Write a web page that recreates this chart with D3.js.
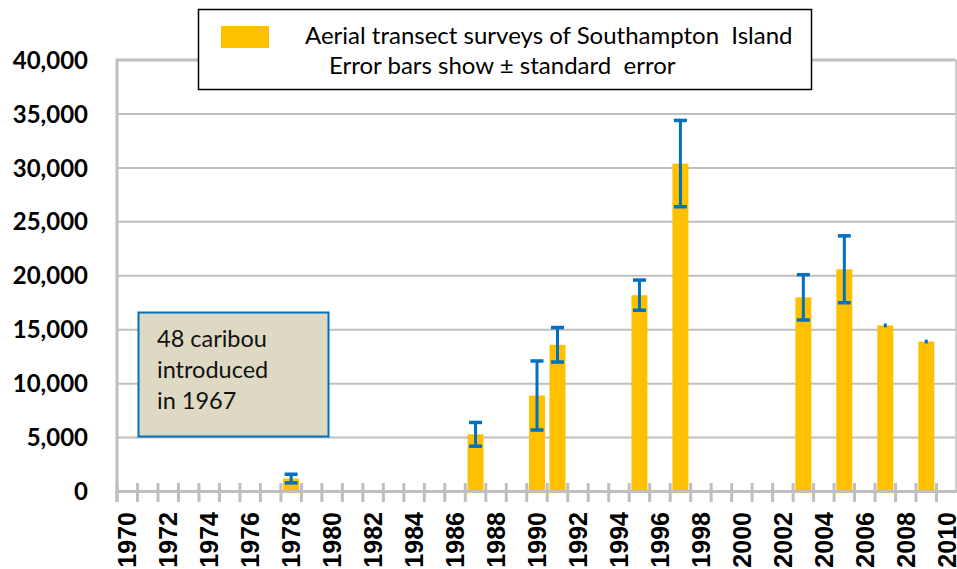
<!DOCTYPE html>
<html>
<head>
<meta charset="utf-8">
<script src="https://cdn.jsdelivr.net/npm/d3@7"></script>
<style>
  body { margin: 0; background: #fff; }
  svg { display: block; }
</style>
</head>
<body>
<div id="chart"></div>
<script>
// survey data
const surveyYears = [1978, 1987, 1990, 1991, 1995, 1997, 2003, 2005, 2007, 2009];
const estimates   = [1200, 5300, 8900, 13600, 18200, 30400, 18000, 20600, 15400, 13900];
const stdErrors   = [400, 1100, 3200, 1600, 1400, 4000, 2100, 3100, 180, 180];

// axis categories / labels
const axisYears  = [1970, 1971, 1972, 1973, 1974, 1975, 1976, 1977, 1978, 1979,
                    1980, 1981, 1982, 1983, 1984, 1985, 1986, 1987, 1988, 1989,
                    1990, 1991, 1992, 1993, 1994, 1995, 1996, 1997, 1998, 1999,
                    2000, 2001, 2002, 2003, 2004, 2005, 2006, 2007, 2008, 2009, 2010];
const xTickLabels = [1970, 1972, 1974, 1976, 1978, 1980, 1982, 1984, 1986, 1988, 1990,
                     1992, 1994, 1996, 1998, 2000, 2002, 2004, 2006, 2008, 2010];
const yTickValues = [0, 5000, 10000, 15000, 20000, 25000, 30000, 35000, 40000];

const legendLines = ["Aerial transect surveys of Southampton  Island",
                     "Error bars show \u00B1 standard  error"];
const noteLines = ["48 caribou", "introduced", "in 1967"];

const width = 957, height = 569;
const plotLeft = 117, plotRight = 957, plotTop = 60, plotBottom = 491.5;
const gridColor = "#bfbfbf";

const svg = d3.select("#chart").append("svg")
    .attr("width", width)
    .attr("height", height);

// band for bars, linear for the category boundaries (tick marks)
const x = d3.scaleBand()
    .domain(axisYears)
    .range([plotLeft, plotRight])
    .paddingInner(0.22)
    .paddingOuter(0.11);

const xEdge = d3.scaleLinear()
    .domain([1970, 2011])
    .range([plotLeft, plotRight]);

const y = d3.scaleLinear()
    .domain([0, 40000])
    .range([plotBottom, plotTop]);

// horizontal gridlines
svg.append("g")
    .selectAll("line")
    .data(yTickValues.filter(d => d > 0))
    .join("line")
    .attr("x1", plotLeft)
    .attr("x2", plotRight - 1)
    .attr("y1", d => y(d))
    .attr("y2", d => y(d))
    .attr("stroke", gridColor)
    .attr("stroke-width", d => d === 40000 ? 3 : 2);

// right border of plot
svg.append("line")
    .attr("x1", plotRight - 1).attr("x2", plotRight - 1)
    .attr("y1", y(40000)).attr("y2", plotBottom)
    .attr("stroke", gridColor)
    .attr("stroke-width", 1.5);

// y labels
svg.append("g")
    .selectAll("text")
    .data(yTickValues)
    .join("text")
    .attr("x", 88)
    .attr("y", d => y(d))
    .attr("dy", "0.36em")
    .attr("text-anchor", "end")
    .style("font-family", "Lato, 'Open Sans', sans-serif")
    .style("font-weight", "bold")
    .style("font-size", "24px")
    .text(d => d3.format(",")(d));

// bars
const rows = surveyYears.map((yr, i) => ({year: yr, value: estimates[i], se: stdErrors[i]}));

svg.append("g")
    .selectAll("rect")
    .data(rows)
    .join("rect")
    .attr("x", d => x(d.year))
    .attr("width", x.bandwidth())
    .attr("y", d => y(d.value))
    .attr("height", d => y(0) - y(d.value))
    .attr("fill", "#ffc000");

// axes lines
svg.append("line")
    .attr("x1", plotLeft).attr("x2", plotLeft)
    .attr("y1", y(40000) - 1.5).attr("y2", 502)
    .attr("stroke", gridColor).attr("stroke-width", 3);

svg.append("line")
    .attr("x1", plotLeft - 1.5).attr("x2", plotRight)
    .attr("y1", plotBottom).attr("y2", plotBottom)
    .attr("stroke", gridColor).attr("stroke-width", 3);

// tick marks at category boundaries
svg.append("g")
    .selectAll("line")
    .data(axisYears)
    .join("line")
    .attr("x1", d => xEdge(d))
    .attr("x2", d => xEdge(d))
    .attr("y1", 483)
    .attr("y2", 502)
    .attr("stroke", gridColor)
    .attr("stroke-width", 3);

// x labels (rotated)
svg.append("g")
    .selectAll("text")
    .data(xTickLabels)
    .join("text")
    .attr("transform", d => `translate(${x(d) + x.bandwidth() / 2},512) rotate(-90)`)
    .attr("text-anchor", "end")
    .attr("dy", "0.36em")
    .style("font-family", "'Liberation Sans', Arial, sans-serif")
    .style("font-weight", "bold")
    .style("font-size", "25px")
    .text(d => d);

// error bars
const errBlue = "#0070c0";
const eb = svg.append("g")
    .selectAll("g")
    .data(rows)
    .join("g")
    .attr("transform", d => `translate(${x(d.year) + x.bandwidth() / 2},0)`);

eb.append("line")
    .attr("y1", d => y(d.value + d.se))
    .attr("y2", d => y(d.value - d.se))
    .attr("stroke", errBlue)
    .attr("stroke-width", 3);

eb.filter(d => d.se >= 300)
    .selectAll("line.cap")
    .data(d => [d.value + d.se, d.value - d.se])
    .join("line")
    .attr("class", "cap")
    .attr("x1", -6.5).attr("x2", 6.5)
    .attr("y1", v => y(v)).attr("y2", v => y(v))
    .attr("stroke", errBlue)
    .attr("stroke-width", 3.5);

// annotation box
const note = svg.append("g");
note.append("rect")
    .attr("x", 138.5).attr("y", 312.5)
    .attr("width", 190).attr("height", 124)
    .attr("fill", "#ddd9c3")
    .attr("stroke", errBlue)
    .attr("stroke-width", 2);

note.selectAll("text")
    .data(noteLines)
    .join("text")
    .attr("x", 157)
    .attr("y", (d, i) => 347 + i * 31)
    .style("font-family", "Lato, sans-serif")
    .style("font-size", "23.5px")
    .style("fill", "#111")
    .text(d => d);

// legend
const legend = svg.append("g");
legend.append("rect")
    .attr("x", 198.5).attr("y", 9.5)
    .attr("width", 613).attr("height", 80)
    .attr("fill", "#fff")
    .attr("stroke", "#000")
    .attr("stroke-width", 1.5);

legend.append("rect")
    .attr("x", 221).attr("y", 26)
    .attr("width", 48).attr("height", 22)
    .attr("fill", "#ffc000");

legend.selectAll("text")
    .data(legendLines)
    .join("text")
    .attr("x", (d, i) => i === 0 ? 305 : 329)
    .attr("y", (d, i) => i === 0 ? 44 : 74)
    .style("font-family", "Lato, sans-serif")
    .style("font-size", "24px")
    .style("white-space", "pre")
    .style("fill", "#000")
    .text(d => d);
</script>
</body>
</html>
